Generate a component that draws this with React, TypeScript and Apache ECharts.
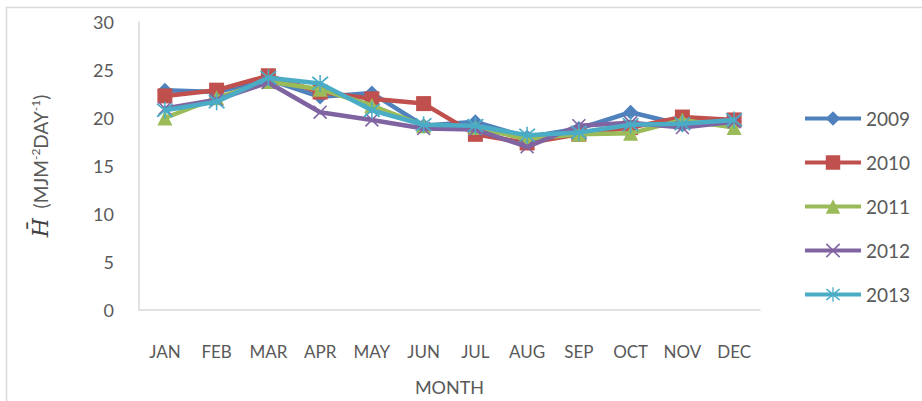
import React, { useEffect, useRef } from "react";
import * as echarts from "echarts";

const months = ["JAN", "FEB", "MAR", "APR", "MAY", "JUN", "JUL", "AUG", "SEP", "OCT", "NOV", "DEC"];
const s2009 = [22.9, 22.7, 24.0, 22.2, 22.6, 19.2, 19.6, 18.0, 18.9, 20.6, 19.3, 19.7];
const s2010 = [22.3, 22.9, 24.4, 22.7, 22.0, 21.5, 18.3, 17.4, 18.3, 19.0, 20.1, 19.8];
const s2011 = [20.0, 22.1, 23.8, 23.0, 21.3, 19.2, 19.0, 17.8, 18.3, 18.4, 19.8, 19.0];
const s2012 = [21.0, 21.9, 23.7, 20.6, 19.8, 18.9, 18.8, 17.0, 19.2, 19.5, 19.0, 19.6];
const s2013 = [20.8, 21.7, 24.2, 23.6, 20.8, 19.3, 19.2, 18.2, 18.5, 19.3, 19.4, 19.8];
const yearNames = ["2009", "2010", "2011", "2012", "2013"];

const COLORS = ["#4f81bd", "#c0504d", "#9bbb59", "#8064a2", "#4bacc6"];
const X_PATH = "path://M0,1.6 L1.6,0 L20,18.4 L18.4,20 Z M18.4,0 L20,1.6 L1.6,20 L0,18.4 Z";
const STAR_PATH =
  "path://M0,1.6 L1.6,0 L20,18.4 L18.4,20 Z M18.4,0 L20,1.6 L1.6,20 L0,18.4 Z M9.1,-2 L10.9,-2 L10.9,22 L9.1,22 Z";
const SYMBOLS = ["diamond", "rect", "triangle", X_PATH, STAR_PATH];
const SIZES = [15, 15, 15, 14, 17];

export default function App() {
  const ref = useRef<HTMLDivElement>(null);
  useEffect(() => {
    if (!ref.current) return;
    const chart = echarts.init(ref.current, undefined, { renderer: "svg" });
    const data = [s2009, s2010, s2011, s2012, s2013];
    const font = "Lato, 'Open Sans', sans-serif";
    chart.setOption({
      animation: false,
      textStyle: { fontFamily: font },
      graphic: [
        {
          type: "rect",
          shape: { x: 6.5, y: 7.5, width: 930, height: 420 },
          style: { fill: "none", stroke: "#d9d9d9", lineWidth: 1.5 },
          silent: true,
        },
      ],
      grid: { left: 139, top: 22, right: 162, bottom: 88, containLabel: false },
      legend: {
        orient: "vertical",
        left: 798,
        top: 104,
        itemGap: 25,
        itemWidth: 56,
        itemHeight: 18,
        data: yearNames,
        lineStyle: { width: 4 },
        textStyle: { color: "#595959", fontSize: 19, fontFamily: font },
      },
      xAxis: {
        type: "category",
        data: months,
        boundaryGap: true,
        axisLine: { show: true, lineStyle: { color: "#d9d9d9", width: 1.5 } },
        axisTick: { show: false },
        axisLabel: { color: "#595959", fontSize: 17, margin: 33, fontFamily: font },
        name: "MONTH",
        nameLocation: "middle",
        nameGap: 68,
        nameTextStyle: { color: "#595959", fontSize: 18, fontFamily: font },
        splitLine: { show: false },
      },
      yAxis: {
        type: "value",
        min: 0,
        max: 30,
        interval: 5,
        axisLine: { show: true, lineStyle: { color: "#d9d9d9", width: 1.5 } },
        axisTick: { show: false },
        splitLine: { show: false },
        axisLabel: { color: "#595959", fontSize: 18, margin: 25, fontFamily: font },
        name: "{h|H\u0304}{t|  (MJM}{s|-2}{t|DAY}{s|-1}{t|)}",
        nameLocation: "middle",
        nameGap: 88,
        nameRotate: 90,
        nameTextStyle: {
          color: "#595959",
          rich: {
            h: { fontFamily: "'DejaVu Serif', 'Liberation Serif', serif", fontStyle: "italic", fontSize: 22, color: "#404040" },
            t: { fontSize: 19, fontFamily: font, color: "#595959" },
            s: { fontSize: 12, fontFamily: font, color: "#595959", verticalAlign: "top", padding: [0, 0, 9, 0] },
          },
        },
      },
      series: data.map((d, i) => ({
        name: yearNames[i],
        type: "line",
        data: d,
        symbol: SYMBOLS[i],
        symbolSize: SIZES[i],
        showAllSymbol: true,
        lineStyle: { color: COLORS[i], width: 4.5 },
        itemStyle: { color: COLORS[i], borderWidth: 0 },
        z: 2 + i,
      })),
    });
    return () => chart.dispose();
  }, []);
  return <div ref={ref} style={{ width: 922, height: 401, position: "absolute", left: 0, top: 0 }} />;
}
